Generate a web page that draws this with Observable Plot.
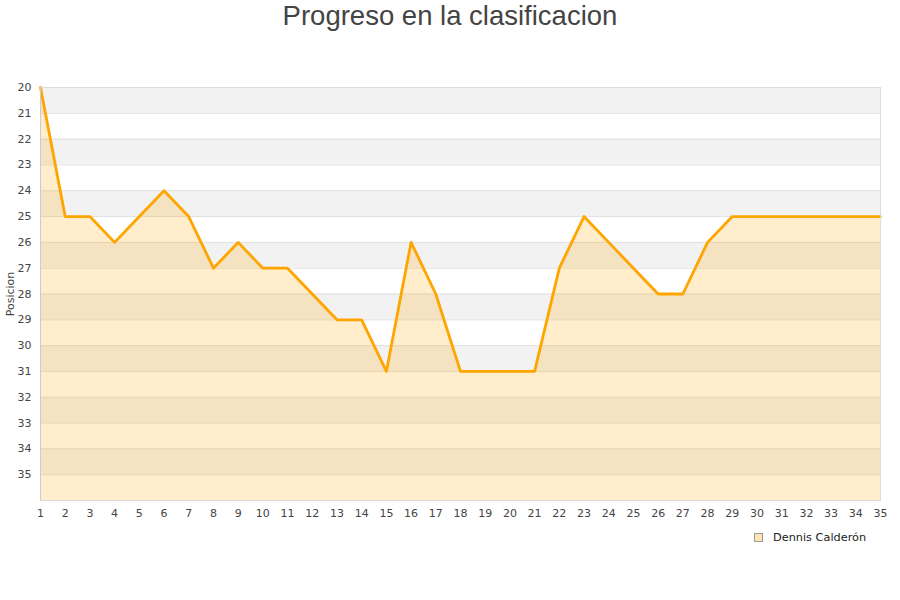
<!DOCTYPE html>
<html><head><meta charset="utf-8">
<script src="https://cdn.jsdelivr.net/npm/d3@7"></script>
<script src="https://cdn.jsdelivr.net/npm/@observablehq/plot@0.6"></script>
<style>
body{margin:0;background:#fff;}
#wrap{position:relative;width:900px;height:600px;}
#title{height:60px;font:27.5px "Liberation Sans",Arial,sans-serif;color:#444;text-align:center;line-height:32px;}
#legend{position:absolute;left:754px;top:530px;font:11.3px "DejaVu Sans",sans-serif;color:#222;display:flex;align-items:center;height:14px;}
#legend .sw{display:inline-block;width:7px;height:7px;border:1px solid #999;background:#fde5b8;margin-right:10px;}
</style></head><body>
<div id="wrap">
<div id="title">Progreso en la clasificacion</div>
<div id="chart"></div>
<div id="legend"><span class="sw"></span>Dennis Calderón</div>
</div>
<script>
const jornadas = [1,2,3,4,5,6,7,8,9,10,11,12,13,14,15,16,17,18,19,20,21,22,23,24,25,26,27,28,29,30,31,32,33,34,35];
const posiciones = [20,25,25,26,25,24,25,27,26,27,27,28,29,29,31,26,28,31,31,31,31,27,25,26,27,28,28,26,25,25,25,25,25,25,25];
const yTicks = [20,21,22,23,24,25,26,27,28,29,30,31,32,33,34,35];
const yBottom = 36;
const serie = "Dennis Calderón";

const data = jornadas.map((j, i) => ({jornada: j, posicion: posiciones[i]}));
const bands = yTicks.map(t => ({start: t, end: t + 1}));
const gridLines = [...yTicks, yBottom];

const chart = Plot.plot({
  width: 900,
  height: 470,
  marginTop: 27,
  marginBottom: 30,
  marginLeft: 40,
  marginRight: 20,
  style: {fontFamily: "DejaVu Sans, sans-serif", fontSize: "11px", color: "#444", background: "transparent"},
  x: {domain: [1, 35]},
  y: {domain: [20, yBottom], reverse: true},
  marks: [
    Plot.rect(bands, {y1: "start", y2: "end", fill: d => d.start % 2 === 0 ? "#f2f2f2" : "#ffffff"}),
    Plot.ruleY(gridLines, {stroke: "#e0e0e0", strokeWidth: 1}),
    Plot.areaY(data, {x: "jornada", y1: yBottom, y2: "posicion", fill: "orange", fillOpacity: 0.2}),
    Plot.lineY(data, {x: "jornada", y: "posicion", stroke: "orange", strokeWidth: 2.8}),
    Plot.frame({stroke: "#dcdcdc"}),
    Plot.ruleX([1], {stroke: "#cccccc"}),
    Plot.axisX({ticks: jornadas, tickSize: 0, tickPadding: 9, tickFormat: d => String(d), label: null}),
    Plot.axisY({ticks: yTicks, tickSize: 0, tickPadding: 9, tickFormat: d => String(d), label: "Posicion", labelAnchor: "center", labelArrow: "none", labelOffset: 34})
  ]
});
document.getElementById("chart").appendChild(chart);
</script>
</body></html>
